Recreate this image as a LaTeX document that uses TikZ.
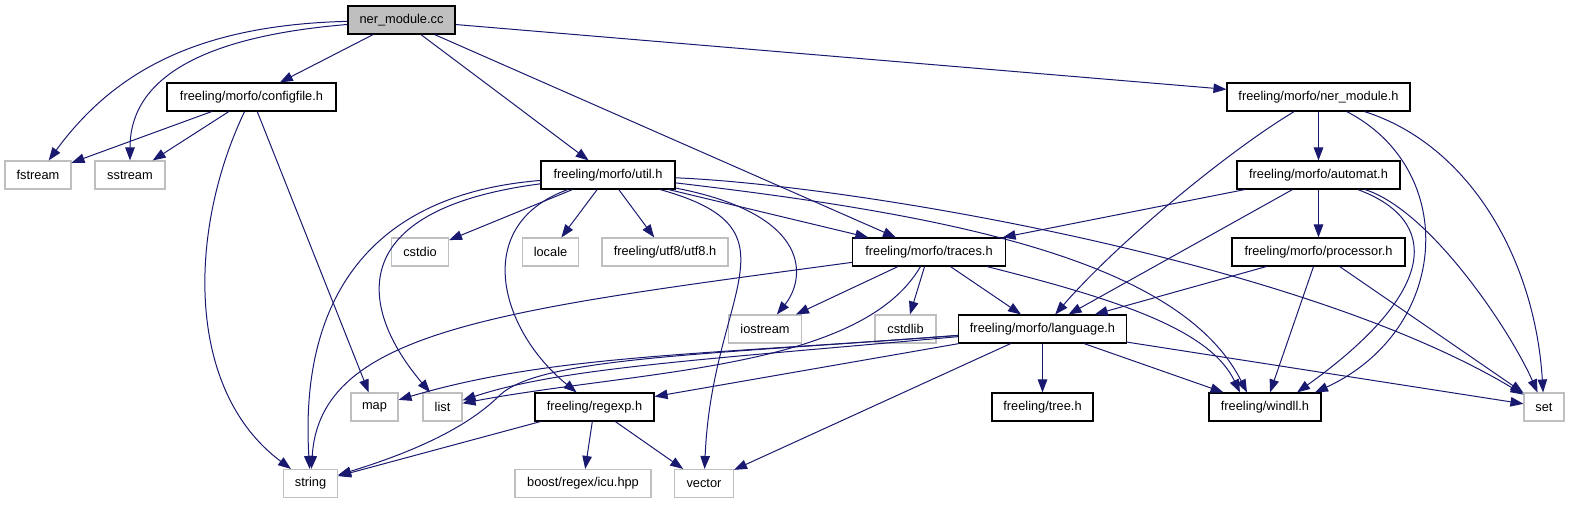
\documentclass[tikz,border=0pt]{standalone}
\usepackage{fontspec}
\setmainfont{Liberation Sans}
\usepackage{xcolor}
\usepackage{tikz}
\usetikzlibrary{arrows.meta,calc}
\definecolor{edgeblue}{HTML}{191970}
\definecolor{sysgray}{HTML}{BFBFBF}

\begin{document}
\begin{tikzpicture}[
  x=1pt,y=-1pt,
  font=\fontsize{12.8}{15}\selectfont,
  box/.style={draw,fill=white,inner sep=0pt,minimum height=28pt,line width=1.1pt},
  root/.style={box,fill=sysgray},
  hdr/.style={box},
  sys/.style={box,draw=sysgray},
  arr/.style={-{Triangle[length=13pt,width=9.5pt]},color=edgeblue,line width=1pt},
]
\useasboundingbox (0,0) rectangle (1569,504);
\node[root,minimum width=107pt] (cc) at (401.5,20) {ner\_module.cc};
\node[hdr,minimum width=169pt] (cfg) at (251.5,97) {freeling/morfo/configfile.h};
\node[hdr,minimum width=183pt] (nerh) at (1318.5,97) {freeling/morfo/ner\_module.h};
\node[sys,minimum width=66pt] (fstr) at (38,175) {fstream};
\node[sys,minimum width=70pt] (sstr) at (130,175) {sstream};
\node[hdr,minimum width=134pt] (util) at (608,175) {freeling/morfo/util.h};
\node[hdr,minimum width=163pt] (aut) at (1318.5,175) {freeling/morfo/automat.h};
\node[sys,minimum width=57pt] (cstdio) at (420,252) {cstdio};
\node[sys,minimum width=56pt] (locale) at (550.5,252) {locale};
\node[sys,minimum width=126pt] (utf) at (665,252) {freeling/utf8/utf8.h};
\node[hdr,minimum width=153pt] (tr) at (929,252) {freeling/morfo/traces.h};
\node[hdr,minimum width=173pt] (proc) at (1318.5,252) {freeling/morfo/processor.h};
\node[sys,minimum width=73pt] (ios) at (765,329) {iostream};
\node[sys,minimum width=61pt] (cstdlib) at (905.5,329) {cstdlib};
\node[hdr,minimum width=168pt] (lang) at (1042.5,329) {freeling/morfo/language.h};
\node[sys,minimum width=47pt] (map) at (374.5,407) {map};
\node[sys,minimum width=39pt] (list) at (442.5,407) {list};
\node[hdr,minimum width=119pt] (rx) at (594.5,407) {freeling/regexp.h};
\node[hdr,minimum width=101pt] (tree) at (1042.5,407) {freeling/tree.h};
\node[hdr,minimum width=112pt] (wdll) at (1265,407) {freeling/windll.h};
\node[sys,minimum width=40pt] (set) at (1544,407) {set};
\node[sys,minimum width=54pt] (str) at (310.5,483.5) {string};
\node[sys,minimum width=136pt] (icu) at (583,483.5) {boost/regex/icu.hpp};
\node[sys,minimum width=59pt] (vec) at (704,483.5) {vector};
\draw[arr] (cc) -- (cfg);
\draw[arr] (cc) -- (util);
\draw[arr] (cc) -- (tr);
\draw[arr] (cc) -- (nerh);
\draw[arr] (cc) .. controls (200,25) and (115,70) .. (fstr);
\draw[arr] (cc) .. controls (220,35) and (130,70) .. (sstr);
\draw[arr] (cfg) -- (fstr);
\draw[arr] (cfg) -- (sstr);
\draw[arr] (cfg) -- (map);
\draw[arr] (cfg) .. controls (188,230) and (185,390) .. (str);
\draw[arr] (util) -- (cstdio);
\draw[arr] (util) -- (locale);
\draw[arr] (util) -- (utf);
\draw[arr] (util) -- (tr);
\draw[arr] (util) .. controls (360,195) and (300,310) .. (str);
\draw[arr] (util) .. controls (340,210) and (360,310) .. (list);
\draw[arr] (util) .. controls (470,225) and (500,330) .. (rx);
\draw[arr] (util) .. controls (805,230) and (712,290) .. (vec);
\draw[arr] (util) .. controls (815,215) and (805,280) .. (ios);
\draw[arr] (util) .. controls (950,215) and (1180,260) .. ($(wdll.north)+(-18,0)$);
\draw[arr] (util) .. controls (850,185) and (1300,260) .. (set);
\draw[arr] (tr) -- (ios);
\draw[arr] (tr) -- (cstdlib);
\draw[arr] (tr) -- (lang);
\draw[arr] (tr) .. controls (500,310) and (320,330) .. (str);
\draw[arr] (tr) .. controls (860,370) and (640,370) .. (list);
\draw[arr] (tr) .. controls (1120,300) and (1210,330) .. ($(wdll.north)+(-25,0)$);
\draw[arr] (lang) -- (tree);
\draw[arr] (lang) -- (rx);
\draw[arr] (lang) -- (vec);
\draw[arr] (lang) -- (wdll);
\draw[arr] (lang) -- (set);
\draw[arr] (lang) .. controls (700,355) and (550,355) .. (map);
\draw[arr] (lang) .. controls (700,360) and (560,368) .. (list);
\draw[arr] (lang) .. controls (700,355) and (540,358) .. (500,395)
  .. controls (470,425) and (420,450) .. (str);
\draw[arr] (rx) -- (str);
\draw[arr] (rx) -- (icu);
\draw[arr] (rx) -- (vec);
\draw[arr] (nerh) -- (aut);
\draw[arr] (nerh) .. controls (1230,150) and (1120,240) .. (lang);
\draw[arr] (nerh) .. controls (1460,170) and (1450,330) .. ($(wdll.north)+(50,0)$);
\draw[arr] (nerh) .. controls (1470,145) and (1535,260) .. (set);
\draw[arr] (aut) -- (tr);
\draw[arr] (aut) -- (lang);
\draw[arr] (aut) -- (proc);
\draw[arr] (aut) .. controls (1440,220) and (1440,290) .. ($(wdll.north)+(32,0)$);
\draw[arr] (aut) .. controls (1430,210) and (1510,330) .. (set);
\draw[arr] (proc) -- (lang);
\draw[arr] (proc) -- (wdll);
\draw[arr] (proc) -- (set);
\end{tikzpicture}
\end{document}
